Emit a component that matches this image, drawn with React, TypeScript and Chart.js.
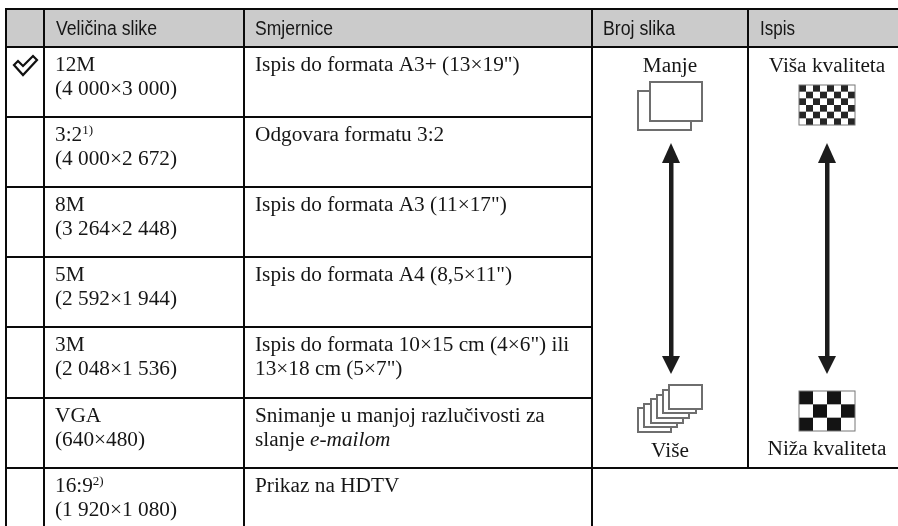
import React, { useEffect, useRef } from "react";
import { Chart, registerables } from "chart.js";

Chart.register(...registerables);

const headers = ["Veličina slike", "Smjernice", "Broj slika", "Ispis"];
const sizeNames = ["12M", "3:2", "8M", "5M", "3M", "VGA", "16:9"];
const sizeNotes = ["", "1)", "", "", "", "", "2)"];
const sizeValues = [
  "(4 000×3 000)",
  "(4 000×2 672)",
  "(3 264×2 448)",
  "(2 592×1 944)",
  "(2 048×1 536)",
  "(640×480)",
  "(1 920×1 080)",
];
const guideFirst = [
  "Ispis do formata A3+ (13×19\")",
  "Odgovara formatu 3:2",
  "Ispis do formata A3 (11×17\")",
  "Ispis do formata A4 (8,5×11\")",
  "Ispis do formata 10×15 cm (4×6\") ili",
  "Snimanje u manjoj razlučivosti za",
  "Prikaz na HDTV",
];
const guideSecond = ["", "", "", "", "13×18 cm (5×7\")", "slanje ", ""];
const guideSecondItalic = ["", "", "", "", "", "e-mailom", ""];
const countLabels = ["Manje", "Više"];
const qualityLabels = ["Viša kvaliteta", "Niža kvaliteta"];

const SERIF = '"Liberation Serif", serif';
const HEAD = '"Liberation Sans", sans-serif';
const BODY_SIZE = 21.3;

const tablePlugin = {
  id: "table",
  afterDraw(chart: any) {
    const ctx: CanvasRenderingContext2D = chart.ctx;
    const X = (v: number) => chart.scales.x.getPixelForValue(v);
    const Y = (v: number) => chart.scales.y.getPixelForValue(v);
    const rowTops = [47, 117, 187, 257, 327, 398, 468];
    const ink = "#161616";
    ctx.save();

    ctx.fillStyle = "#cbcbcb";
    ctx.fillRect(X(6), Y(9), X(898) - X(6), Y(47) - Y(9));

    const line = (x1: number, y1: number, x2: number, y2: number, w = 2, c = "#0a0a0a") => {
      ctx.strokeStyle = c;
      ctx.lineWidth = w;
      ctx.beginPath();
      ctx.moveTo(X(x1), Y(y1));
      ctx.lineTo(X(x2), Y(y2));
      ctx.stroke();
    };
    line(5, 9, 898, 9);
    line(6, 9, 6, 526);
    line(44, 9, 44, 526);
    line(244, 9, 244, 526);
    line(592, 9, 592, 526);
    line(748, 9, 748, 468);
    line(6, 47, 898, 47);
    rowTops.slice(1, 6).forEach((y) => line(6, y, 592, y));
    line(6, 468, 898, 468);

    ctx.textBaseline = "alphabetic";
    ctx.textAlign = "left";
    ctx.fillStyle = ink;
    ctx.font = `20px ${HEAD}`;
    const headWidths = [101, 78, 72, 35];
    [56, 255, 603, 760].forEach((x, i) => {
      const natural = ctx.measureText(headers[i]).width;
      ctx.save();
      ctx.translate(X(x), Y(35));
      ctx.scale(headWidths[i] / natural, 1);
      ctx.fillText(headers[i], 0, 0);
      ctx.restore();
    });

    const body = `${BODY_SIZE}px ${SERIF}`;
    ctx.font = body;
    rowTops.forEach((top, i) => {
      ctx.font = body;
      ctx.fillStyle = ink;
      ctx.fillText(sizeNames[i], X(55), Y(top + 24));
      if (sizeNotes[i]) {
        const w = ctx.measureText(sizeNames[i]).width;
        ctx.font = `13px ${SERIF}`;
        ctx.fillText(sizeNotes[i], X(55) + w, Y(top + 17));
        ctx.font = body;
      }
      ctx.fillText(sizeValues[i], X(55), Y(top + 48));
      ctx.fillText(guideFirst[i], X(255), Y(top + 24));
      if (guideSecond[i]) {
        ctx.fillText(guideSecond[i], X(255), Y(top + 48));
        const w = ctx.measureText(guideSecond[i]).width;
        ctx.font = `italic ${BODY_SIZE}px ${SERIF}`;
        ctx.fillText(guideSecondItalic[i], X(255) + w, Y(top + 48));
      }
    });

    ctx.font = body;
    ctx.textAlign = "center";
    ctx.fillText(countLabels[0], X(670), Y(72));
    ctx.fillText(countLabels[1], X(670), Y(457));
    ctx.fillText(qualityLabels[0], X(827), Y(72));
    ctx.fillText(qualityLabels[1], X(827), Y(455));

    // check mark
    ctx.lineJoin = "miter";
    ctx.strokeStyle = "#111";
    ctx.lineWidth = 2.2;
    ctx.beginPath();
    ctx.moveTo(X(14), Y(65));
    ctx.lineTo(X(18), Y(61));
    ctx.lineTo(X(23), Y(66));
    ctx.lineTo(X(33), Y(56));
    ctx.lineTo(X(37), Y(60));
    ctx.lineTo(X(23), Y(75));
    ctx.closePath();
    ctx.stroke();

    // stacked sheets
    const sheet = (x1: number, y1: number, x2: number, y2: number) => {
      ctx.fillStyle = "#fff";
      ctx.fillRect(X(x1), Y(y1), X(x2) - X(x1), Y(y2) - Y(y1));
      ctx.strokeStyle = "#6e6e6e";
      ctx.lineWidth = 2;
      ctx.strokeRect(X(x1), Y(y1), X(x2) - X(x1), Y(y2) - Y(y1));
    };
    sheet(638, 91, 691, 130);
    sheet(650, 82, 702, 121);
    [
      [638, 408, 671, 432],
      [644, 404, 677, 427],
      [651, 399, 683, 423],
      [657, 395, 689, 418],
      [663, 390, 696, 413],
      [669, 385, 702, 409],
    ].forEach((r) => sheet(r[0], r[1], r[2], r[3]));

    // arrows
    const arrow = (cx: number) => {
      ctx.fillStyle = "#1c1c1c";
      ctx.fillRect(X(cx - 2), Y(158), 4.5, Y(358) - Y(158));
      ctx.beginPath();
      ctx.moveTo(X(cx), Y(143));
      ctx.lineTo(X(cx + 9), Y(163));
      ctx.lineTo(X(cx - 9), Y(163));
      ctx.closePath();
      ctx.fill();
      ctx.beginPath();
      ctx.moveTo(X(cx), Y(374));
      ctx.lineTo(X(cx + 9), Y(356));
      ctx.lineTo(X(cx - 9), Y(356));
      ctx.closePath();
      ctx.fill();
    };
    arrow(671);
    arrow(827);

    // checker patterns
    const checker = (x: number, y: number, w: number, h: number, cols: number, rows: number, c: string) => {
      ctx.fillStyle = "#fff";
      ctx.fillRect(X(x), Y(y), w, h);
      ctx.fillStyle = c;
      const cw = w / cols;
      const ch = h / rows;
      for (let r = 0; r < rows; r++) {
        for (let k = 0; k < cols; k++) {
          if ((r + k) % 2 === 0) ctx.fillRect(X(x) + k * cw, Y(y) + r * ch, cw, ch);
        }
      }
    };
    checker(799, 85, 56, 40, 8, 6, "#262626");
    checker(799, 391, 56, 40, 4, 3, "#141414");
    ctx.strokeStyle = "#777";
    ctx.lineWidth = 1;
    ctx.strokeRect(X(799), Y(85), 56, 40);
    ctx.strokeRect(X(799), Y(391), 56, 40);

    ctx.restore();
  },
};

export default function App() {
  const ref = useRef<HTMLCanvasElement | null>(null);
  useEffect(() => {
    const chart = new Chart(ref.current as HTMLCanvasElement, {
      type: "scatter",
      data: { datasets: [{ data: [], pointRadius: 0 }] },
      options: {
        animation: false,
        responsive: false,
        layout: { padding: 0 },
        plugins: { legend: { display: false }, tooltip: { enabled: false } },
        scales: {
          x: { type: "linear", min: 0, max: 898, display: false },
          y: { type: "linear", min: 0, max: 526, reverse: true, display: false },
        },
      },
      plugins: [tablePlugin],
    } as any);
    return () => chart.destroy();
  }, []);
  return (
    <div style={{ position: "absolute", left: 0, top: 0, width: 898, height: 526, background: "#fff" }}>
      <canvas ref={ref} width={898} height={526} style={{ display: "block" }} />
    </div>
  );
}
